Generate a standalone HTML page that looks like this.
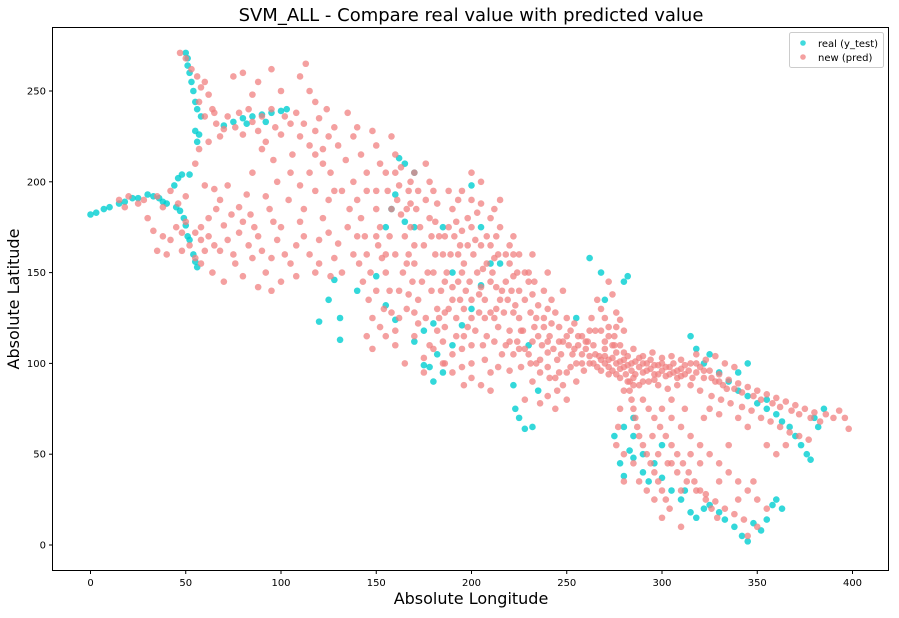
<!DOCTYPE html>
<html><head><meta charset="utf-8"><style>
body{margin:0;background:#fff;font-family:"Liberation Sans","DejaVu Sans",sans-serif}
svg text{font-family:"DejaVu Sans","Liberation Sans",sans-serif}
</style></head><body>
<svg id="chart" width="899" height="613" xmlns="http://www.w3.org/2000/svg">
<rect x="0" y="0" width="899" height="613" fill="#fff"/>
<text x="471" y="21" font-size="18" text-anchor="middle" fill="#000">SVM_ALL - Compare real value with predicted value</text>
<g id="marks"></g>
<rect x="52.5" y="27.5" width="836" height="543" fill="none" stroke="#000" stroke-width="1"/>
<g id="ticks"></g>
<text x="471" y="604" font-size="16" text-anchor="middle">Absolute Longitude</text>
<text transform="translate(19,299) rotate(-90)" font-size="16" text-anchor="middle">Absolute Latitude</text>
<g>
<rect x="789.5" y="32.5" width="94" height="35" rx="2" fill="#fff" fill-opacity="0.85" stroke="#ccc"/>
<circle cx="803" cy="43" r="2.8" fill="#00ced1" fill-opacity="0.75"/>
<text x="818" y="47" font-size="10">real (y_test)</text>
<circle cx="803" cy="57" r="2.8" fill="#f08080" fill-opacity="0.75"/>
<text x="818" y="61" font-size="10">new (pred)</text>
</g>
</svg>
<script>
const xTicks=[0,50,100,150,200,250,300,350,400];
const yTicks=[0,50,100,150,200,250];
const realPts=[[0,182],[3,183],[7,185],[10,186],[15,188],[18,189],[22,191],[25,191],[30,193],[33,192],[36,191],[38,189],[40,188],
[44,198],[46,202],[48,204],[52,204],[45,186],[47,184],[49,180],[50,176],[51,170],[52,168],[54,160],[55,156],[56,153],
[50,271],[51,268],[51,264],[52,260],[53,255],[54,250],[55,244],[56,240],[58,236],[57,226],[56,222],[55,228],
[70,231],[75,233],[80,235],[85,236],[90,237],[95,238],[100,239],[103,240],[82,232],[92,233],
[120,123],[125,135],[128,146],[131,113],[131,125],[140,140],[150,148],[155,175],[158,185],[160,193],[162,213],[165,210],[170,205],[165,178],[170,175],[155,132],[160,124],[175,118],[170,112],[175,99],[178,98],[180,90],[185,95],[180,122],[182,105],[190,110],[195,121],[200,130],[205,143],[210,155],[205,175],[200,198],[185,175],[190,150],[215,155],[222,88],[223,75],[225,70],[228,64],[232,65],[235,85],[230,110],[255,125],[262,158],[268,150],[270,135],[280,145],[282,148],
[275,60],[278,45],[280,38],[283,52],[285,60],[290,40],[293,35],[296,45],[300,37],[305,30],[310,25],[312,30],[315,18],[318,15],[322,20],[325,22],[330,18],[333,14],[338,10],[342,5],[345,2],[348,12],[352,8],[355,14],[358,22],[360,25],[363,20],
[280,65],[285,48],[290,50],[300,55],[285,70],
[315,115],[318,108],[322,100],[325,105],[330,95],[335,90],[340,85],[345,82],[350,78],[355,75],[360,72],[363,68],[367,65],[370,60],[373,55],[376,50],[378,47],[380,70],[382,65],[385,75],[355,80],[340,95],[345,100]];
const predPts=[[47,271],[50,268],[53,262],[56,258],[58,252],[60,255],[62,248],[57,244],[64,240],[60,236],[66,232],[70,229],[72,236],[76,230],[78,238],[80,226],[83,240],[85,233],[88,228],[90,236],[92,222],[95,240],[97,230],[100,226],[102,236],[105,232],[108,238],[110,225],[112,232],[115,220],[118,228],[120,235],[122,218],[125,225],[110,258],[113,265],[95,262],[80,260],[88,255],[75,258],[100,250],[115,250],[85,248],[90,218],[96,212],[62,222],[57,218],[55,210],[106,215],[65,238],[68,225],
[15,190],[20,192],[25,188],[18,186],[28,190],[35,192],[38,186],[42,195],[30,180],[33,173],[38,170],[35,162],[42,168],[45,175],[48,172],[50,178],[55,172],[58,168],[62,170],[65,165],[68,162],[60,162],[58,175],[62,180],[66,185],[70,176],[72,168],[75,160],[78,172],[80,178],[83,165],[85,158],[88,170],[90,162],[92,150],[95,158],[98,168],[100,175],[102,160],[105,155],[108,165],[110,178],[112,170],[115,160],[118,150],[120,168],[122,180],[125,172],[128,158],[130,166],[132,150],[135,175],[68,190],[72,198],[78,186],[82,193],[76,155],[64,150],[70,145],[80,148],[88,142],[95,140],[100,145],[108,148],[40,160],[48,162],[52,165],[55,158],[58,155],[84,182],[94,185],[104,190],[112,185],[118,195],[125,190],[105,205],[115,205],[110,198],[98,200],[92,192],[74,182],[86,175],[96,178],[120,155],[126,148],[138,160],[140,170],[136,185],[128,195],[85,205],[65,196],[60,198],[50,192],[46,188],
[118,215],[122,210],[126,205],[130,220],[134,212],[138,200],[142,215],[145,205],[148,228],[150,220],[152,210],[155,205],[158,225],[160,215],[140,230],[135,238],[128,230],[145,195],[132,195],[150,195],[124,240],[118,244],[138,225],
[140,190],[142,180],[144,170],[141,155],[143,145],[146,135],[148,125],[145,160],
[150,185],[152,175],[151,165],[153,158],[155,150],[150,140],[154,130],[152,120],[156,195],[158,185],
[160,205],[162,198],[161,190],[163,182],[165,170],[160,160],[164,150],[162,140],[166,130],[160,118],[168,200],[168,188],[167,160],
[170,205],[172,195],[171,185],[173,175],[175,165],[170,155],[174,145],[172,135],[176,125],[170,115],[178,200],[178,180],[177,150],[178,110],[175,103],
[180,195],[182,188],[181,178],[183,170],[185,160],[180,150],[184,140],[182,130],[186,120],[180,108],[188,195],[188,175],[187,150],[188,130],[186,100],
[190,185],[192,178],[191,170],[193,160],[195,150],[190,142],[194,135],[192,125],[196,115],[190,105],[198,180],[198,165],[197,140],[198,120],
[200,175],[202,168],[201,160],[203,150],[205,142],[200,135],[204,128],[202,118],[206,110],[200,100],[208,170],[208,155],[207,135],[208,115],[205,188],[200,190],
[210,165],[212,158],[211,150],[213,142],[215,135],[210,128],[214,120],[212,112],[216,105],[210,95],[218,160],[218,145],[217,128],[218,110],[215,175],
[220,155],[222,148],[221,140],[223,132],[225,125],[220,118],[224,112],[222,105],[226,98],[228,150],[228,135],[227,118],[228,108],[230,145],[232,138],[231,128],[233,120],[235,115],[230,105],[234,100],[236,95],[238,140],[238,125],[237,110],[240,130],[242,122],[241,115],[243,108],[245,102],[240,98],[244,92],[246,120],[248,112],[250,125],[252,118],[251,110],[253,105],[255,100],[250,95],[248,88],[258,115],[258,105],[256,110],[260,108],[262,104],[264,100],[266,98],[261,112],[245,85],[240,82],[232,90],[236,78],[228,80],[244,75],[250,80],[255,90],
[205,200],[200,205],[195,195],[212,185],[222,170],[232,160],[240,150],[248,140],[225,160],[215,190],
[185,100],[190,95],[195,98],[200,92],[205,88],[210,85],[160,110],[165,100],[175,95],[155,115],[148,108],[170,128],[185,112],[196,88],
[265,105],[268,102],[270,100],[272,98],[274,103],[276,100],[278,97],[280,102],[282,99],[284,96],[286,101],[288,98],[290,95],[292,100],[294,97],[296,94],[298,99],[300,96],[302,93],[304,98],[306,95],[308,92],[310,97],[312,94],[270,108],[275,110],[280,106],[285,108],[290,104],[295,106],[300,103],[305,104],[310,102],[278,92],[283,90],[288,88],[293,90],[298,88],[303,86],[308,88],[275,115],[272,120],[270,125],[268,130],[266,135],[280,118],[276,128],[274,138],[272,145],[278,110],[265,118],[263,125],
[315,100],[318,95],[320,98],[322,92],[325,96],[328,90],[330,94],[332,88],[335,91],[338,86],[340,89],[342,84],[345,87],[348,82],[350,85],[352,80],[355,83],[358,78],[360,81],[362,76],[365,79],[368,74],[370,77],[372,72],[375,75],[378,70],[380,73],[383,68],[386,72],[390,70],[393,74],[396,70],[398,64],[318,105],[323,102],[328,104],[333,100],[338,98],[315,88],[320,85],[326,82],[331,80],[336,78],[342,76],[347,74],[352,70],[357,68],[362,65],[367,62],[372,60],[377,58],[360,50],[355,55],[365,55],[340,70],[345,65],[325,75],[330,72],
[282,90],[283,85],[284,80],[285,75],[286,70],[287,65],[288,60],[290,55],[292,50],[294,45],[296,40],[298,35],[300,30],[302,25],[304,20],[290,80],[293,75],[296,70],[299,65],[302,60],[305,55],[308,50],[311,45],[314,40],[317,35],[320,30],[323,25],[326,20],[329,15],[300,75],[305,70],[310,65],[315,60],[320,55],[325,50],[330,45],[335,40],[340,35],[345,30],[350,25],[355,20],[298,50],[303,45],[308,40],[313,35],[318,30],[323,28],[328,24],[333,20],[338,17],[343,14],[278,75],[277,65],[276,55],[280,50],[285,45],[288,35],[292,30],[296,25],[300,15],[315,50],[320,45],[310,30],[330,35],[340,25],[348,35],[335,55],[350,10],[345,5],[310,10],[305,45],[280,35],[295,60],[305,80],[312,75],[322,70],
[163,208],[167,195],[166,185],[168,175],[170,165],[166,155],[169,145],[167,138],[176,210],[176,190],[179,170],[181,160],[179,140],[183,125],[186,170],[189,160],[186,145],[190,135],[186,128],[193,190],[195,173],[194,165],[196,155],[193,145],[199,145],[196,130],[203,183],[205,165],[206,152],[204,138],[207,125],[210,180],[213,170],[214,160],[210,145],[216,140],[213,130],[220,165],[222,160],[224,150],[219,135],[225,140],[222,128],[226,118],[230,150],[233,145],[235,132],[234,125],[232,112],[238,120],[240,112],[242,135],[244,128],[246,112],[247,105],[250,115],[254,122],[256,115],[254,108],[258,100],[260,112],[262,118],[259,96],[262,100],[264,110],[267,104],[268,96],[270,104],[272,102],[274,96],[276,106],[278,101],[280,98],[282,104],[284,100],[286,94],[288,103],[290,100],[292,96],[294,102],[296,99],[298,94],[300,100],[302,98],[304,94],[306,100],[308,96],[310,93],[312,99],[314,96],[316,92],[318,100],[322,96],[326,92],[330,90],[334,86],[270,112],[268,118],[272,115],[276,120],[278,124],[274,110],[281,94],[285,92],[290,90],[296,91],[276,94],[272,94],[280,85],[285,88],
[150,170],[147,150],[145,115],[157,140],[158,128],[162,125],[155,160],[157,170],[172,122],[182,118],[192,115],[200,110],[207,102],[214,98],[220,96],[225,108],[231,100],[236,102],[241,92],[246,95],[252,98],[240,106],[220,112],[212,125],[200,125],[195,108]];

const NS='http://www.w3.org/2000/svg';
function sx(v){return 90.5+v*1.905;}
function sy(v){return 545-v*1.816;}
const marks=document.getElementById('marks');
const ticks=document.getElementById('ticks');
function mk(tag,attrs,parent){const e=document.createElementNS(NS,tag);for(const k in attrs)e.setAttribute(k,attrs[k]);parent.appendChild(e);return e;}

realPts.forEach(p=>{
  const c=mk('circle',{cx:sx(p[0]),cy:sy(p[1]),r:3.3,fill:'#00ced1','fill-opacity':0.8},marks);
  
  
});
predPts.forEach(p=>{
  const c=mk('circle',{cx:sx(p[0]),cy:sy(p[1]),r:3.3,fill:'#f08080','fill-opacity':0.75},marks);
  
  
});
xTicks.forEach(t=>{
  const x=sx(t);
  const l=mk('line',{x1:x,x2:x,y1:570.5,y2:574,stroke:'#000'},ticks);
  
  
  const tx=mk('text',{x:x,y:586,'font-size':10,'text-anchor':'middle'},ticks);
  tx.textContent=t;
  
  
});
yTicks.forEach(t=>{
  const y=sy(t);
  const l=mk('line',{x1:49,x2:52.5,y1:y,y2:y,stroke:'#000'},ticks);
  
  
  const tx=mk('text',{x:46,y:y+3.5,'font-size':10,'text-anchor':'end'},ticks);
  tx.textContent=t;
  
  
});
</script>
</body></html>
